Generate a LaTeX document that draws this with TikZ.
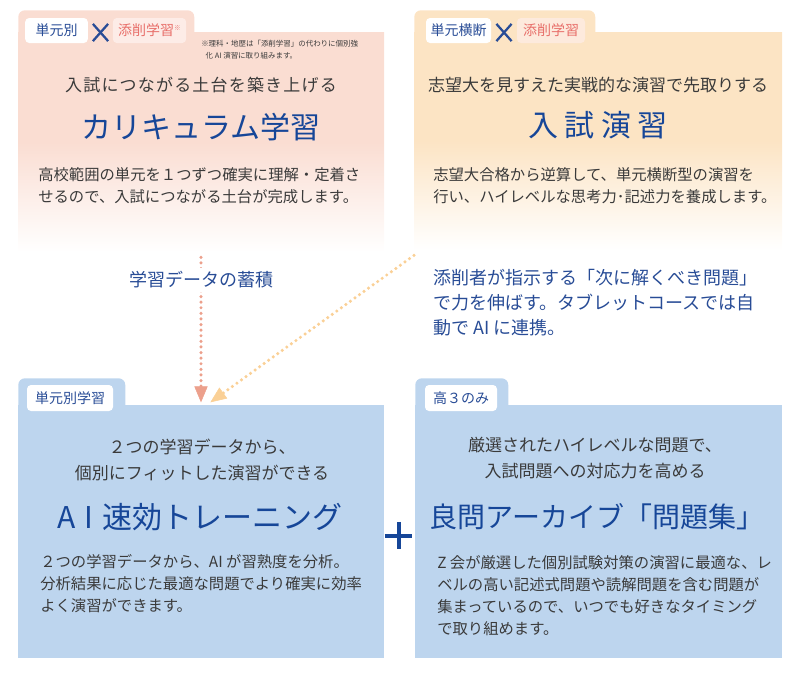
\documentclass[tikz,border=0pt]{standalone}
\usepackage{fontspec}
\setmainfont{Noto Sans CJK JP}
\usepackage{tikz}
\usetikzlibrary{arrows.meta,positioning,calc}

\definecolor{pinkbg}{RGB}{250,221,210}
\definecolor{peachbg}{RGB}{252,228,196}
\definecolor{bluebg}{RGB}{189,213,238}
\definecolor{titleblue}{RGB}{22,70,152}
\definecolor{tagblue}{RGB}{40,76,150}
\definecolor{ink}{RGB}{58,58,58}
\definecolor{zred}{RGB}{232,110,105}
\definecolor{zpink}{RGB}{253,236,231}
\definecolor{dotpink}{RGB}{236,160,140}
\definecolor{dotpeach}{RGB}{250,208,150}

\tikzset{
  >=Stealth,
  every node/.append style={font=\fontsize{11.5pt}{16.5pt}\selectfont},
}

\begin{document}
\begin{tikzpicture}[
  x=0.75pt, y=-0.75pt,
  panel/.style  ={inner sep=0pt, outer sep=0pt},
  tabshape/.style={rounded corners=5pt, anchor=north west, inner sep=0pt, minimum height=30pt},
  tag/.style    ={fill=white, rounded corners=3pt, text=tagblue, minimum height=18.75pt, inner sep=0pt,
                  font=\fontsize{10.5pt}{12pt}\selectfont},
  redtag/.style ={tag, fill=zpink, text=zred},
  cross/.style  ={inner sep=0pt, minimum width=11pt, minimum height=12.5pt},
  crossline/.style={tagblue, line width=1.7pt},
  lead/.style   ={text=ink, align=center, font=\fontsize{12.75pt}{19.5pt}\selectfont},
  title/.style  ={text=titleblue, font=\fontsize{22.5pt}{26pt}\selectfont},
  body/.style   ={text=ink, align=left, anchor=west, inner sep=0pt, font=\fontsize{11.5pt}{16.5pt}\selectfont},
  note/.style   ={text=ink, align=left, anchor=north west, inner sep=0pt, font=\fontsize{5.6pt}{9pt}\selectfont},
  flow/.style   ={text=tagblue, inner sep=3pt, font=\fontsize{13.5pt}{18.75pt}\selectfont},
  dots/.style   ={line width=2.6pt, line cap=round, dash pattern=on 0pt off 4.2pt,
                  -{Triangle[length=12pt,width=10pt,line width=0.4pt]}}
]
\useasboundingbox (0,0) rectangle (800,672);

% upper left: curriculum
\node[tabshape, fill=pinkbg, minimum width=132pt] (currtab) at (18,10) {};
\node[panel, minimum width=274.5pt, minimum height=165pt,
      top color=pinkbg, bottom color=white, middle color=pinkbg] (curr) at (201,142) {};
\node[tag, minimum width=47pt] (currunit) at (56.5,30.5) {単元別};
\node[cross] (currx) at (100.5,32.5) {};
\draw[crossline] (currx.north west) -- (currx.south east) (currx.north east) -- (currx.south west);
\node[redtag, minimum width=55pt] (currzr) at (149.5,30.5) {添削学習\raisebox{4pt}{\fontsize{5pt}{5pt}\selectfont ※}};
\node[note] (currnote) at (201,40) {※理科・地歴は「添削学習」の代わりに個別強\\\hspace{0.6em}化 AI 演習に取り組みます。};
\node[lead] (currlead) at (201,85) {\addfontfeature{LetterSpace=7}入試につながる土台を築き上げる};
\node[title] (currtitle) at (201,127) {カリキュラム学習};
\node[body] (currbody) at (38,186) {高校範囲の単元を１つずつ確実に理解・定着さ\\せるので、入試につながる土台が完成します。};

% upper right: exam practice
\node[tabshape, fill=peachbg, minimum width=135.75pt] (examtab) at (414,10) {};
\node[panel, minimum width=276pt, minimum height=163.5pt,
      top color=peachbg, bottom color=white, middle color=peachbg] (exam) at (598,141) {};
\node[tag, minimum width=48.75pt] (examunit) at (458.5,30.5) {単元横断};
\node[cross] (examx) at (504,32.5) {};
\draw[crossline] (examx.north west) -- (examx.south east) (examx.north east) -- (examx.south west);
\node[redtag, minimum width=51pt, fill=zpink!70!peachbg] (examzr) at (551,30.5) {添削学習};
\node[lead] (examlead) at (598,85) {志望大を見すえた実戦的な演習で先取りする};
\node[title] (examtitle) at (598,125) {入\hspace{0.22em}試\hspace{0.22em}演\hspace{0.22em}習};
\node[body] (exambody) at (433,186) {志望大合格から逆算して、単元横断型の演習を\\行い、ハイレベルな思考力･記述力を養成します。};

% lower left: AI training
\node[tabshape, fill=bluebg, minimum width=80.25pt] (aitab) at (18,378) {};
\node[panel, fill=bluebg, minimum width=274.5pt, minimum height=189.75pt] (aitrain) at (201,531.5) {};
\node[tag, minimum width=64.5pt, minimum height=19.5pt] (aiunit) at (70,398) {単元別学習};
\node[lead] (ailead) at (202,460) {２つの学習データから、\\個別にフィットした演習ができる};
\node[title] (aititle) at (200,517) {A\hspace{0.3em}I\hspace{0.3em}速効トレーニング};
\node[body] (aibody) at (40,583.5) {２つの学習データから、AI が習熟度を分析。\\分析結果に応じた最適な問題でより確実に効率\\よく演習ができます。};

% lower right: problem archive
\node[tabshape, fill=bluebg, minimum width=69.75pt] (archtab) at (415,378) {};
\node[panel, fill=bluebg, minimum width=275.25pt, minimum height=189.75pt] (archive) at (598.5,531.5) {};
\node[tag, minimum width=54pt, minimum height=19.5pt] (archunit) at (461,398) {高３のみ};
\node[lead] (archlead) at (595,458.5) {厳選されたハイレベルな問題で、\\入試問題への対応力を高める};
\node[title, font=\fontsize{21pt}{26pt}\selectfont] (archtitle) at (597,517) {良問アーカイブ「問題集」};
\node[body] (archbody) at (437,595.5) {Z 会が厳選した個別試験対策の演習に最適な、レ\\ベルの高い記述式問題や読解問題を含む問題が\\集まっているので、いつでも好きなタイミング\\で取り組めます。};

% data flow
\draw[dots, dotpink]  ([yshift=-4pt]curr.south) -- ([yshift=2pt]aitrain.north);
\draw[dots, dotpeach] ([yshift=-4pt]exam.south west) -- ([xshift=7pt,yshift=2pt]aitrain.north);
\node[flow, fill=white] (accum) at (201,280) {学習データの蓄積};
\node[flow, anchor=west, align=left, inner sep=0pt] (advice) at (433,303)
  {添削者が指示する「次に解くべき問題」\\で力を伸ばす。タブレットコースでは自\\動で AI に連携。};

% plus between the lower panels
\node[minimum size=20pt, inner sep=0pt] (plus) at (398.5,535.5) {};
\draw[titleblue, line width=3pt] (plus.west) -- (plus.east) (plus.north) -- (plus.south);

\end{tikzpicture}
\end{document}
